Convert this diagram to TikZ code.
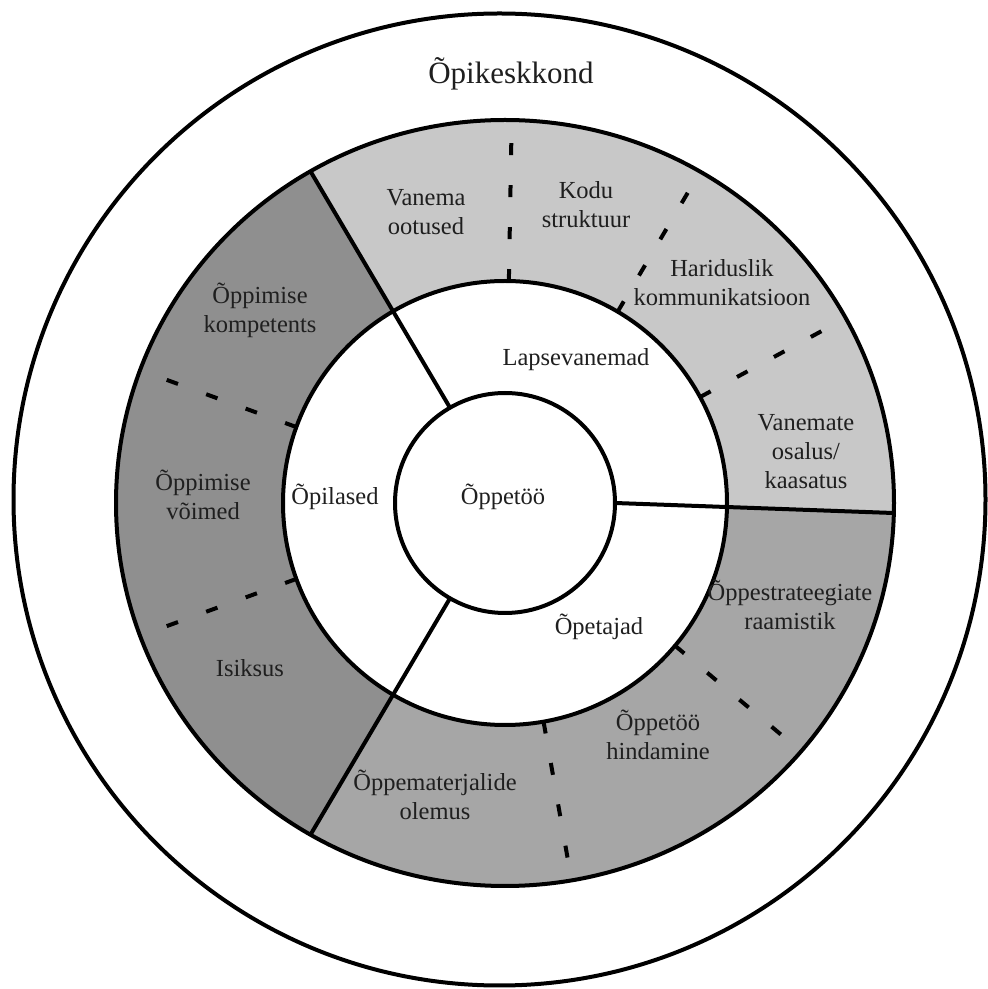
\documentclass[tikz,border=0pt]{standalone}
\usepackage{fontspec}
\setmainfont{Liberation Serif}
\definecolor{lightg}{RGB}{200,200,200}
\definecolor{midg}{RGB}{166,166,166}
\definecolor{darkg}{RGB}{143,143,143}
\begin{document}
\begin{tikzpicture}[x=1pt,y=1pt,
  ringline/.style={line width=4pt},
  dashline/.style={line width=4pt, dash pattern=on 12pt off 30pt},
  lbl/.style={align=center, font=\fontsize{24.5}{29}\selectfont, text=black!88, inner sep=0pt}]
\useasboundingbox (0,0) rectangle (988,989);
% outer environment circle
\draw[ringline] (499.5,489.5) circle[radius=486];
\begin{scope}[shift={(505,486)}]
\fill[lightg] (120:222) arc[start angle=120, end angle=-1.5, radius=222] -- (-1.5:389 and 383) arc[start angle=-1.5, end angle=120, x radius=389, y radius=383] -- cycle;
\fill[darkg] (120:222) arc[start angle=120, end angle=240, radius=222] -- (240:389 and 383) arc[start angle=240, end angle=120, x radius=389, y radius=383] -- cycle;
\fill[midg] (240:222) arc[start angle=240, end angle=358.5, radius=222] -- (358.5:389 and 383) arc[start angle=358.5, end angle=240, x radius=389, y radius=383] -- cycle;
\draw[ringline] (0,0) ellipse[x radius=389, y radius=383];
\draw[ringline] (0,0) circle[radius=222];
\draw[ringline] (0,0) circle[radius=110];
\draw[ringline] (120:110) -- (120:389 and 383);
\draw[ringline] (240:110) -- (240:389 and 383);
\draw[ringline] (0:110) -- (-1.5:389 and 383);
\foreach \a in {89,59.5,28.5,160,200,280,320}
  \draw[dashline] (\a:222) -- (\a:362);
\end{scope}
% labels (pixel y converted: 989 - y)
\node[lbl, font=\fontsize{31}{36}\selectfont] (env) at (511,915) {Õpikeskkond};
\node[lbl] (core) at (503,492) {Õppetöö};
\node[lbl] (parents) at (576,629) {Lapsevanemad};
\node[lbl] (students) at (335,492) {Õpilased};
\node[lbl] (teachers) at (599,362) {Õpetajad};
\node[lbl] (p1) at (426,777) {Vanema\\ootused};
\node[lbl] (p2) at (586,784) {Kodu\\struktuur};
\node[lbl] (p3) at (722,706) {Hariduslik\\kommunikatsioon};
\node[lbl] (p4) at (806,537) {Vanemate\\osalus/\\kaasatus};
\node[lbl] (s1) at (260,679) {Õppimise\\kompetents};
\node[lbl] (s2) at (203,494) {Õppimise\\võimed};
\node[lbl] (s3) at (250,321) {Isiksus};
\node[lbl] (t1) at (790,384) {Õppestrateegiate\\raamistik};
\node[lbl] (t2) at (658,254) {Õppetöö\\hindamine};
\node[lbl] (t3) at (435,194) {Õppematerjalide\\olemus};
\end{tikzpicture}
\end{document}
